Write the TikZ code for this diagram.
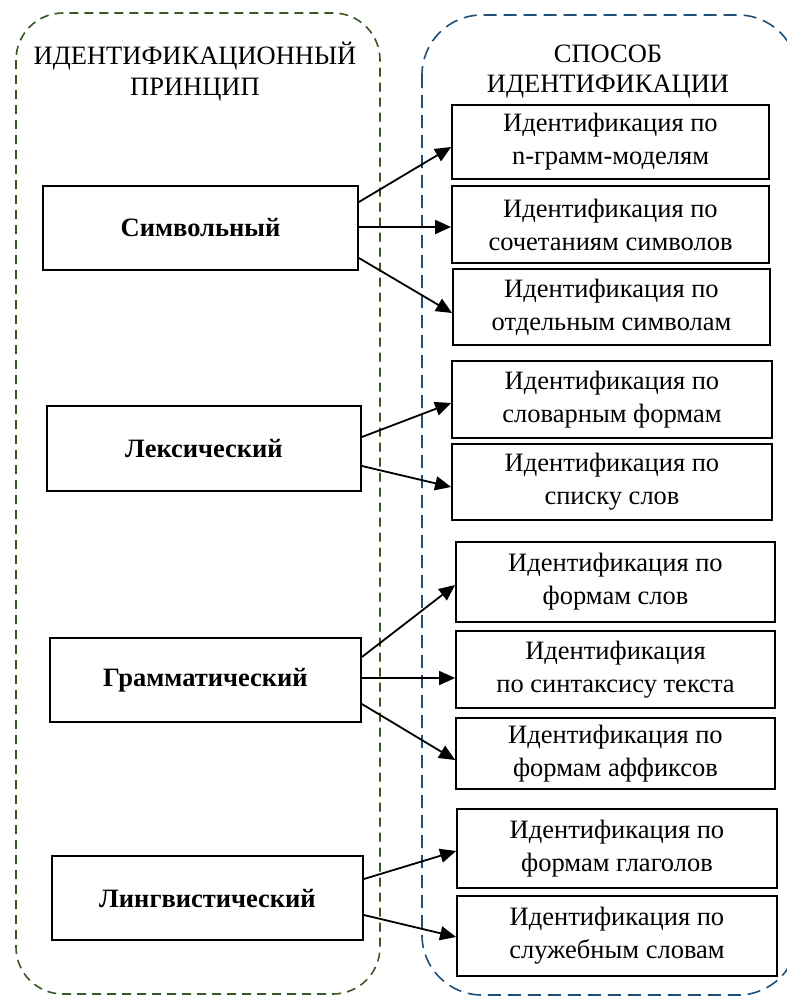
\documentclass[tikz,border=0pt]{standalone}
\usepackage{fontspec}
\setmainfont{Liberation Serif}
\usetikzlibrary{arrows.meta,calc}
\definecolor{contgreen}{RGB}{56,87,35}
\definecolor{contblue}{RGB}{31,78,121}
\newcommand\mybox[7][box]{\node[#1, minimum width={(#4)*1pt-(#2)*1pt}, minimum height={(#5)*1pt-(#3)*1pt}] (#7) at ({(#2+#4)/2},{(#3+#5)/2}) {#6};}
\begin{document}
\begin{tikzpicture}[x=1pt,y=-1pt,
  box/.style={draw, line width=1.8pt, inner sep=0pt, align=center, font=\fontsize{26.5}{33}\selectfont},
  leftbox/.style={box, font=\fontsize{26.5}{32}\selectfont\bfseries},
  title/.style={anchor=base, inner sep=0pt, font=\fontsize{26.5}{33}\selectfont},
  arr/.style={line width=1.8pt, -{Triangle[length=16pt,width=14pt]}},
  container/.style={line width=1.6pt, rounded corners=#1}]
\useasboundingbox (0,0) rectangle (787,996);
\draw[container=47pt, contgreen, dash pattern=on 9pt off 6pt] (16,13) rectangle (380,994);
\draw[container=60pt, contblue, dash pattern=on 13pt off 7pt] (422,15) rectangle (798,995);
\node[title] (tl1) at (195,64) {ИДЕНТИФИКАЦИОННЫЙ};
\node[title] (tl2) at (195,95) {ПРИНЦИП};
\node[title] (tr1) at (608,62) {СПОСОБ};
\node[title] (tr2) at (608,92) {ИДЕНТИФИКАЦИИ};
\mybox[leftbox]{43}{186}{358}{270}{Символьный}{sym}
\mybox[leftbox]{47}{406}{361}{491}{Лексический}{lex}
\mybox[leftbox]{50}{638}{361}{722}{Грамматический}{gram}
\mybox[leftbox]{52}{856}{363}{940}{Лингвистический}{ling}
\mybox{452}{105}{769}{179}{Идентификация по\\n-грамм-моделям}{r1}
\mybox{452}{186}{769}{263}{Идентификация по\\сочетаниям символов}{r2}
\mybox{453}{269}{770}{345}{Идентификация по\\отдельным символам}{r3}
\mybox{452}{361}{772}{438}{Идентификация по\\словарным формам}{r4}
\mybox{452}{444}{772}{520}{Идентификация по\\списку слов}{r5}
\mybox{456}{542}{775}{622}{Идентификация по\\формам слов}{r6}
\mybox{456}{631}{775}{708}{Идентификация\\по синтаксису текста}{r7}
\mybox{456}{718}{775}{789}{Идентификация по\\формам аффиксов}{r8}
\mybox{457}{809}{777}{888}{Идентификация по\\формам глаголов}{r9}
\mybox{457}{896}{777}{976}{Идентификация по\\служебным словам}{r10}
\draw[arr] ([yshift=26pt]sym.east) -- ([yshift=-5pt]r1.west);
\draw[arr] ([yshift=1pt]sym.east) -- ([yshift=-2.5pt]r2.west);
\draw[arr] ([yshift=-30pt]sym.east) -- ([yshift=-6pt]r3.west);
\draw[arr] ([yshift=11.5pt]lex.east) -- ([yshift=-3.5pt]r4.west);
\draw[arr] ([yshift=-17.5pt]lex.east) -- ([yshift=-5pt]r5.west);
\draw[arr] ([yshift=23pt]gram.east) -- ([yshift=-3pt]r6.west);
\draw[arr] ([yshift=2pt]gram.east) -- ([yshift=-8.5pt]r7.west);
\draw[arr] ([yshift=-24pt]gram.east) -- ([yshift=-6.5pt]r8.west);
\draw[arr] ([yshift=19pt]ling.east) -- ([yshift=-2.5pt]r9.west);
\draw[arr] ([yshift=-17pt]ling.east) -- ([yshift=-1pt]r10.west);
\end{tikzpicture}
\end{document}
